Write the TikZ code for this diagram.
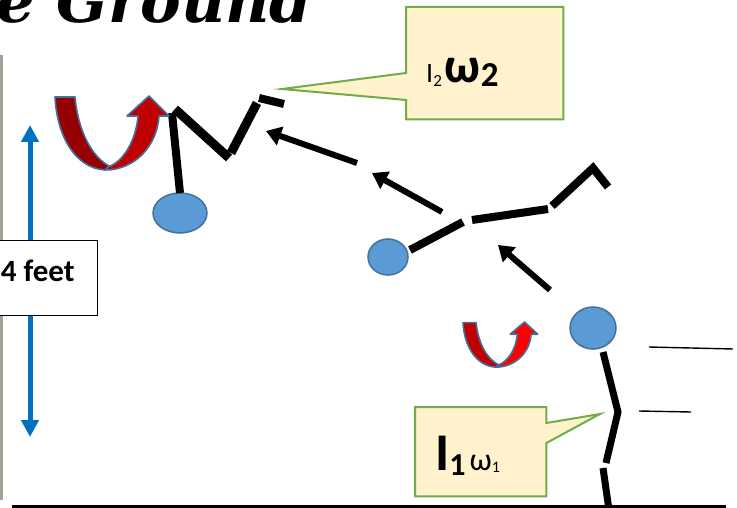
\documentclass[tikz,border=0pt]{standalone}
\usepackage{fontspec}
\setmainfont{Carlito}
\newfontfamily\titlefont{DejaVu Serif}
\usetikzlibrary{arrows.meta,calc,backgrounds}

\definecolor{ballblue}{RGB}{91,155,213}
\definecolor{ballline}{RGB}{65,113,156}
\definecolor{htblue}{RGB}{0,112,192}
\definecolor{notefill}{RGB}{255,242,204}
\definecolor{noteline}{RGB}{112,173,71}
\definecolor{spindark}{RGB}{150,0,0}
\definecolor{spinred}{RGB}{192,0,0}
\definecolor{spinbright}{RGB}{255,0,0}
\definecolor{stripgray}{RGB}{160,162,150}

% curved u-turn arrow, back half #1, front half #2
\newcommand{\spinarrow}[2]{%
  \filldraw[spin, fill=#1] (0,1) -- (20,1) .. controls (23,35) and (37,62) .. (56,71)
     -- (50,74) .. controls (20,72) and (2,40) .. (0,1) -- cycle;
  \filldraw[spin, fill=#2] (50,74) .. controls (80,74) and (102,50) .. (104,20)
     -- (114,20) -- (94,0) -- (72,20) -- (83,20) .. controls (81,45) and (68,66) .. (53,71) -- cycle;
}

\begin{document}
\begin{tikzpicture}[x=1pt, y=-1pt,
    limb/.style={line width=8pt, line cap=butt, line join=miter},
    head/.style={draw=ballline, line width=1.5pt, fill=ballblue},
    move/.style={-{Triangle[length=15pt,width=19pt]}, line width=6pt},
    spin/.style={draw=ballline, line width=1.6pt, line join=round},
    htarrow/.style={{Triangle[length=17pt,width=17pt]}-{Triangle[length=17pt,width=17pt]}, draw=htblue, line width=5pt},
    feetbox/.style={draw, line width=0.9pt, fill=white, font=\bfseries\fontsize{31}{31}\selectfont},
    note/.style={draw=noteline, line width=2pt, fill=notefill},
    notetext/.style={align=left, inner ysep=0pt, inner xsep=20pt, anchor=north west},
    trail/.style={line width=1.4pt},
]
\useasboundingbox (0,0) rectangle (737,508);
\clip (0,0) rectangle (737,508);

% --- photo edge and title ---
\fill[stripgray] (0,55) rectangle (3,500);
\node[anchor=base west, inner sep=0pt, font=\titlefont\bfseries\itshape\fontsize{61}{61}\selectfont] (title) at (-4,23) {e Ground};

% --- height marker ---
\coordinate (htop) at (30,125);
\coordinate (hbot) at (30,437);
\draw[htarrow] (htop) -- (hbot);
\node[feetbox, anchor=east, text height=41pt, text depth=34pt, inner ysep=0pt, inner xsep=23pt] (feet) at (98,277.5) {4 feet};

% --- ground ---
\draw[line width=3pt] (12,506) -- (726,506);

% --- take-off (right) ---
\draw[head] (593,328) ellipse [x radius=23pt, y radius=21pt];
\draw[limb, line width=7pt] (603,352) -- (618,412) -- (606,463);
\draw[limb, line width=7pt] (603,468) -- (609,510);
\draw[trail] (649,347) -- (733,349);
\draw[trail] (639,411) -- (691,412);

% --- mid flight ---
\draw[head] (388,257) ellipse [x radius=20pt, y radius=18pt];
\draw[limb] (410,250) -- (463,222);
\draw[limb] (472,220) -- (548,209);
\draw[limb] (552,206) -- (593,168) -- (608,187);

% --- top of the flip ---
\draw[head] (180,213) ellipse [x radius=27pt, y radius=20pt];
\draw[limb] (180,193) -- (172,113);
\draw[limb, line width=9pt] (175,109) -- (229,158);
\draw[limb, line width=9pt] (231,153) -- (257,103);
\draw[limb] (259,98) -- (284,104);

% --- path arrows ---
\draw[move] (550,290) -- (498,245);
\draw[move] (442,212) -- (372,173);
\draw[move] (357,163) -- (266,131);

% --- rotation ---
\begin{scope}[shift={(55,96)}]
  \spinarrow{spindark}{spinred}
\end{scope}
\begin{scope}[shift={(463,322)}, xscale=0.655, yscale=0.61]
  \spinarrow{spinred}{spinbright}
\end{scope}

% --- callouts ---
\coordinate (tiptwo) at (282,89);
\node[notetext, text width=117pt, text height=75pt, text depth=37pt] (itwo) at (406,7)
  {{\fontsize{28}{28}\selectfont I\raisebox{-4pt}{\fontsize{17}{17}\selectfont 2}}\hspace{3pt}{\fontsize{50}{50}\selectfont\bfseries ω\raisebox{-4pt}{\fontsize{35}{35}\selectfont 2}}};
\begin{scope}[on background layer]
\draw[note] (itwo.north west) -- (itwo.north east) -- (itwo.south east) -- (itwo.south west)
  -- ($(itwo.north west)+(0,93)$) -- (tiptwo) -- ($(itwo.north west)+(0,66)$) -- cycle;
\end{scope}

\coordinate (tipone) at (600,414);
\node[notetext, text width=91pt, text height=63pt, text depth=26pt] (ione) at (415,407)
  {{\fontsize{53}{53}\selectfont\bfseries I\raisebox{-5pt}{\fontsize{32}{32}\selectfont 1}}\hspace{4pt}{\fontsize{32}{32}\selectfont ω\raisebox{-2pt}{\fontsize{16}{16}\selectfont 1}}};
\begin{scope}[on background layer]
\draw[note] (ione.north west) -- (ione.north east) -- ($(ione.north east)+(0,16)$) -- (tipone)
  -- ($(ione.north east)+(0,36)$) -- (ione.south east) -- (ione.south west) -- cycle;
\end{scope}

\end{tikzpicture}
\end{document}
